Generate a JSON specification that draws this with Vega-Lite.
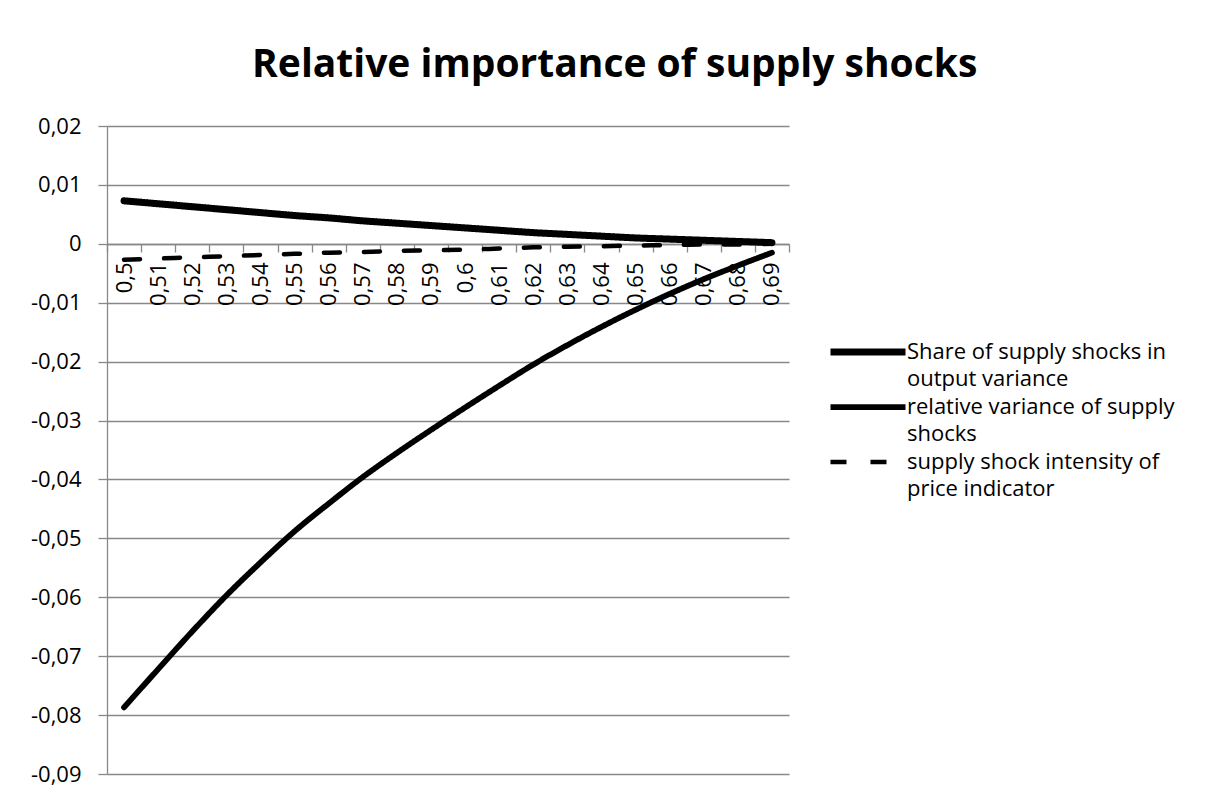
{
  "$schema": "https://vega.github.io/schema/vega-lite/v6.json",
  "width": 682,
  "height": 648,
  "autosize": {"type": "none"},
  "padding": {"left": 107, "top": 126, "right": 417, "bottom": 22},
  "background": "white",
  "title": {
    "text": "Relative importance of supply shocks",
    "font": "Open Sans",
    "fontSize": 39,
    "fontWeight": "bold",
    "color": "black",
    "anchor": "middle",
    "frame": "bounds",
    "offset": 30,
    "dx": 12
  },
  "datasets": {
    "rows": [
      {"x": 0.5, "series": "Share of supply shocks in output variance", "value": 0.0073},
      {"x": 0.51, "series": "Share of supply shocks in output variance", "value": 0.0068},
      {"x": 0.52, "series": "Share of supply shocks in output variance", "value": 0.0063},
      {"x": 0.53, "series": "Share of supply shocks in output variance", "value": 0.0058},
      {"x": 0.54, "series": "Share of supply shocks in output variance", "value": 0.0053},
      {"x": 0.55, "series": "Share of supply shocks in output variance", "value": 0.0048},
      {"x": 0.56, "series": "Share of supply shocks in output variance", "value": 0.0044},
      {"x": 0.57, "series": "Share of supply shocks in output variance", "value": 0.0039},
      {"x": 0.58, "series": "Share of supply shocks in output variance", "value": 0.0035},
      {"x": 0.59, "series": "Share of supply shocks in output variance", "value": 0.0031},
      {"x": 0.6, "series": "Share of supply shocks in output variance", "value": 0.0027},
      {"x": 0.61, "series": "Share of supply shocks in output variance", "value": 0.0023},
      {"x": 0.62, "series": "Share of supply shocks in output variance", "value": 0.0019},
      {"x": 0.63, "series": "Share of supply shocks in output variance", "value": 0.0016},
      {"x": 0.64, "series": "Share of supply shocks in output variance", "value": 0.0013},
      {"x": 0.65, "series": "Share of supply shocks in output variance", "value": 0.001},
      {"x": 0.66, "series": "Share of supply shocks in output variance", "value": 0.0008},
      {"x": 0.67, "series": "Share of supply shocks in output variance", "value": 0.0006},
      {"x": 0.68, "series": "Share of supply shocks in output variance", "value": 0.0004},
      {"x": 0.69, "series": "Share of supply shocks in output variance", "value": 0.0002},
      {"x": 0.5, "series": "relative variance of supply shocks", "value": -0.0787},
      {"x": 0.51, "series": "relative variance of supply shocks", "value": -0.0722},
      {"x": 0.52, "series": "relative variance of supply shocks", "value": -0.0658},
      {"x": 0.53, "series": "relative variance of supply shocks", "value": -0.0597},
      {"x": 0.54, "series": "relative variance of supply shocks", "value": -0.0541},
      {"x": 0.55, "series": "relative variance of supply shocks", "value": -0.0488},
      {"x": 0.56, "series": "relative variance of supply shocks", "value": -0.0441},
      {"x": 0.57, "series": "relative variance of supply shocks", "value": -0.0396},
      {"x": 0.58, "series": "relative variance of supply shocks", "value": -0.0355},
      {"x": 0.59, "series": "relative variance of supply shocks", "value": -0.0316},
      {"x": 0.6, "series": "relative variance of supply shocks", "value": -0.0278},
      {"x": 0.61, "series": "relative variance of supply shocks", "value": -0.0241},
      {"x": 0.62, "series": "relative variance of supply shocks", "value": -0.0205},
      {"x": 0.63, "series": "relative variance of supply shocks", "value": -0.0172},
      {"x": 0.64, "series": "relative variance of supply shocks", "value": -0.0141},
      {"x": 0.65, "series": "relative variance of supply shocks", "value": -0.0112},
      {"x": 0.66, "series": "relative variance of supply shocks", "value": -0.0085},
      {"x": 0.67, "series": "relative variance of supply shocks", "value": -0.006},
      {"x": 0.68, "series": "relative variance of supply shocks", "value": -0.0037},
      {"x": 0.69, "series": "relative variance of supply shocks", "value": -0.0015},
      {"x": 0.5, "series": "supply shock intensity of price indicator", "value": -0.0027},
      {"x": 0.51, "series": "supply shock intensity of price indicator", "value": -0.0025},
      {"x": 0.52, "series": "supply shock intensity of price indicator", "value": -0.0023},
      {"x": 0.53, "series": "supply shock intensity of price indicator", "value": -0.0021},
      {"x": 0.54, "series": "supply shock intensity of price indicator", "value": -0.0019},
      {"x": 0.55, "series": "supply shock intensity of price indicator", "value": -0.0017},
      {"x": 0.56, "series": "supply shock intensity of price indicator", "value": -0.0015},
      {"x": 0.57, "series": "supply shock intensity of price indicator", "value": -0.0014},
      {"x": 0.58, "series": "supply shock intensity of price indicator", "value": -0.0012},
      {"x": 0.59, "series": "supply shock intensity of price indicator", "value": -0.0011},
      {"x": 0.6, "series": "supply shock intensity of price indicator", "value": -0.001},
      {"x": 0.61, "series": "supply shock intensity of price indicator", "value": -0.0008},
      {"x": 0.62, "series": "supply shock intensity of price indicator", "value": -0.0006},
      {"x": 0.63, "series": "supply shock intensity of price indicator", "value": -0.0005},
      {"x": 0.64, "series": "supply shock intensity of price indicator", "value": -0.0004},
      {"x": 0.65, "series": "supply shock intensity of price indicator", "value": -0.0003},
      {"x": 0.66, "series": "supply shock intensity of price indicator", "value": -0.0002},
      {"x": 0.67, "series": "supply shock intensity of price indicator", "value": -0.0001},
      {"x": 0.68, "series": "supply shock intensity of price indicator", "value": -0.0001},
      {"x": 0.69, "series": "supply shock intensity of price indicator", "value": 0}
    ]
  },
  "data": {"name": "rows"},
  "mark": {"type": "line", "interpolate": "monotone", "strokeCap": "round", "strokeJoin": "round", "color": "black"},
  "encoding": {
    "x": {
      "field": "x",
      "type": "ordinal",
      "bandPosition": 0.5,
      "scale": {"type": "band", "paddingInner": 0, "paddingOuter": 0},
      "axis": {
        "title": null,
        "offset": -530,
        "tickBand": "extent",
        "labelAngle": 270,
        "labelExpr": "datum.value == null ? '' : replace(toString(datum.value), '.', ',')",
        "labelPadding": 10,
        "tickSize": 8,
        "grid": false
      }
    },
    "y": {
      "field": "value",
      "type": "quantitative",
      "scale": {"domain": [-0.09, 0.02], "nice": false, "zero": false},
      "axis": {
        "title": null,
        "values": [-0.09, -0.08, -0.07, -0.06, -0.05, -0.04, -0.03, -0.02, -0.01, 0, 0.01, 0.02],
        "labelExpr": "abs(datum.value) < 0.0001 ? '0' : (datum.value < 0 ? '-' : '') + replace(format(abs(datum.value), '.2f'), '.', ',')",
        "tickSize": 9,
        "labelPadding": 17,
        "grid": true
      }
    },
    "strokeWidth": {
      "field": "series",
      "type": "nominal",
      "scale": {
        "domain": ["Share of supply shocks in output variance", "relative variance of supply shocks", "supply shock intensity of price indicator"],
        "range": [7, 4.5, 4.5]
      },
      "legend": {
        "title": null,
        "labelExpr": "datum.label == 'Share of supply shocks in output variance' ? ['Share of supply shocks in', 'output variance'] : datum.label == 'relative variance of supply shocks' ? ['relative variance of supply', 'shocks'] : ['supply shock intensity of', 'price indicator']",
        "encode": {
          "labels": {"update": {"lineHeight": {"value": 27}, "y": {"value": 16}}},
          "symbols": {"update": {"size": {"value": 5625}, "y": {"value": 16}}}
        }
      }
    },
    "strokeDash": {
      "field": "series",
      "type": "nominal",
      "scale": {
        "domain": ["Share of supply shocks in output variance", "relative variance of supply shocks", "supply shock intensity of price indicator"],
        "range": [[1, 0], [1, 0], [16, 24]]
      },
      "legend": {
        "title": null,
        "labelExpr": "datum.label == 'Share of supply shocks in output variance' ? ['Share of supply shocks in', 'output variance'] : datum.label == 'relative variance of supply shocks' ? ['relative variance of supply', 'shocks'] : ['supply shock intensity of', 'price indicator']",
        "encode": {
          "labels": {"update": {"lineHeight": {"value": 27}, "y": {"value": 16}}},
          "symbols": {"update": {"size": {"value": 5625}, "y": {"value": 16}}}
        }
      }
    }
  },
  "config": {
    "font": "Open Sans",
    "view": {"stroke": null},
    "axis": {
      "domainColor": "#888888",
      "domainWidth": 1.3,
      "tickColor": "#888888",
      "tickWidth": 1.3,
      "gridColor": "#888888",
      "gridWidth": 1.3,
      "labelFont": "Open Sans",
      "labelFontSize": 22,
      "labelColor": "black"
    },
    "legend": {
      "orient": "none",
      "legendX": 720,
      "legendY": 210,
      "symbolType": "stroke",
      "symbolSize": 2500,
      "symbolStrokeColor": "black",
      "labelFont": "Open Sans",
      "labelFontSize": 22,
      "labelColor": "black",
      "labelOffset": -2,
      "labelLimit": 400,
      "labelBaseline": "middle",
      "rowPadding": 1
    }
  }
}
